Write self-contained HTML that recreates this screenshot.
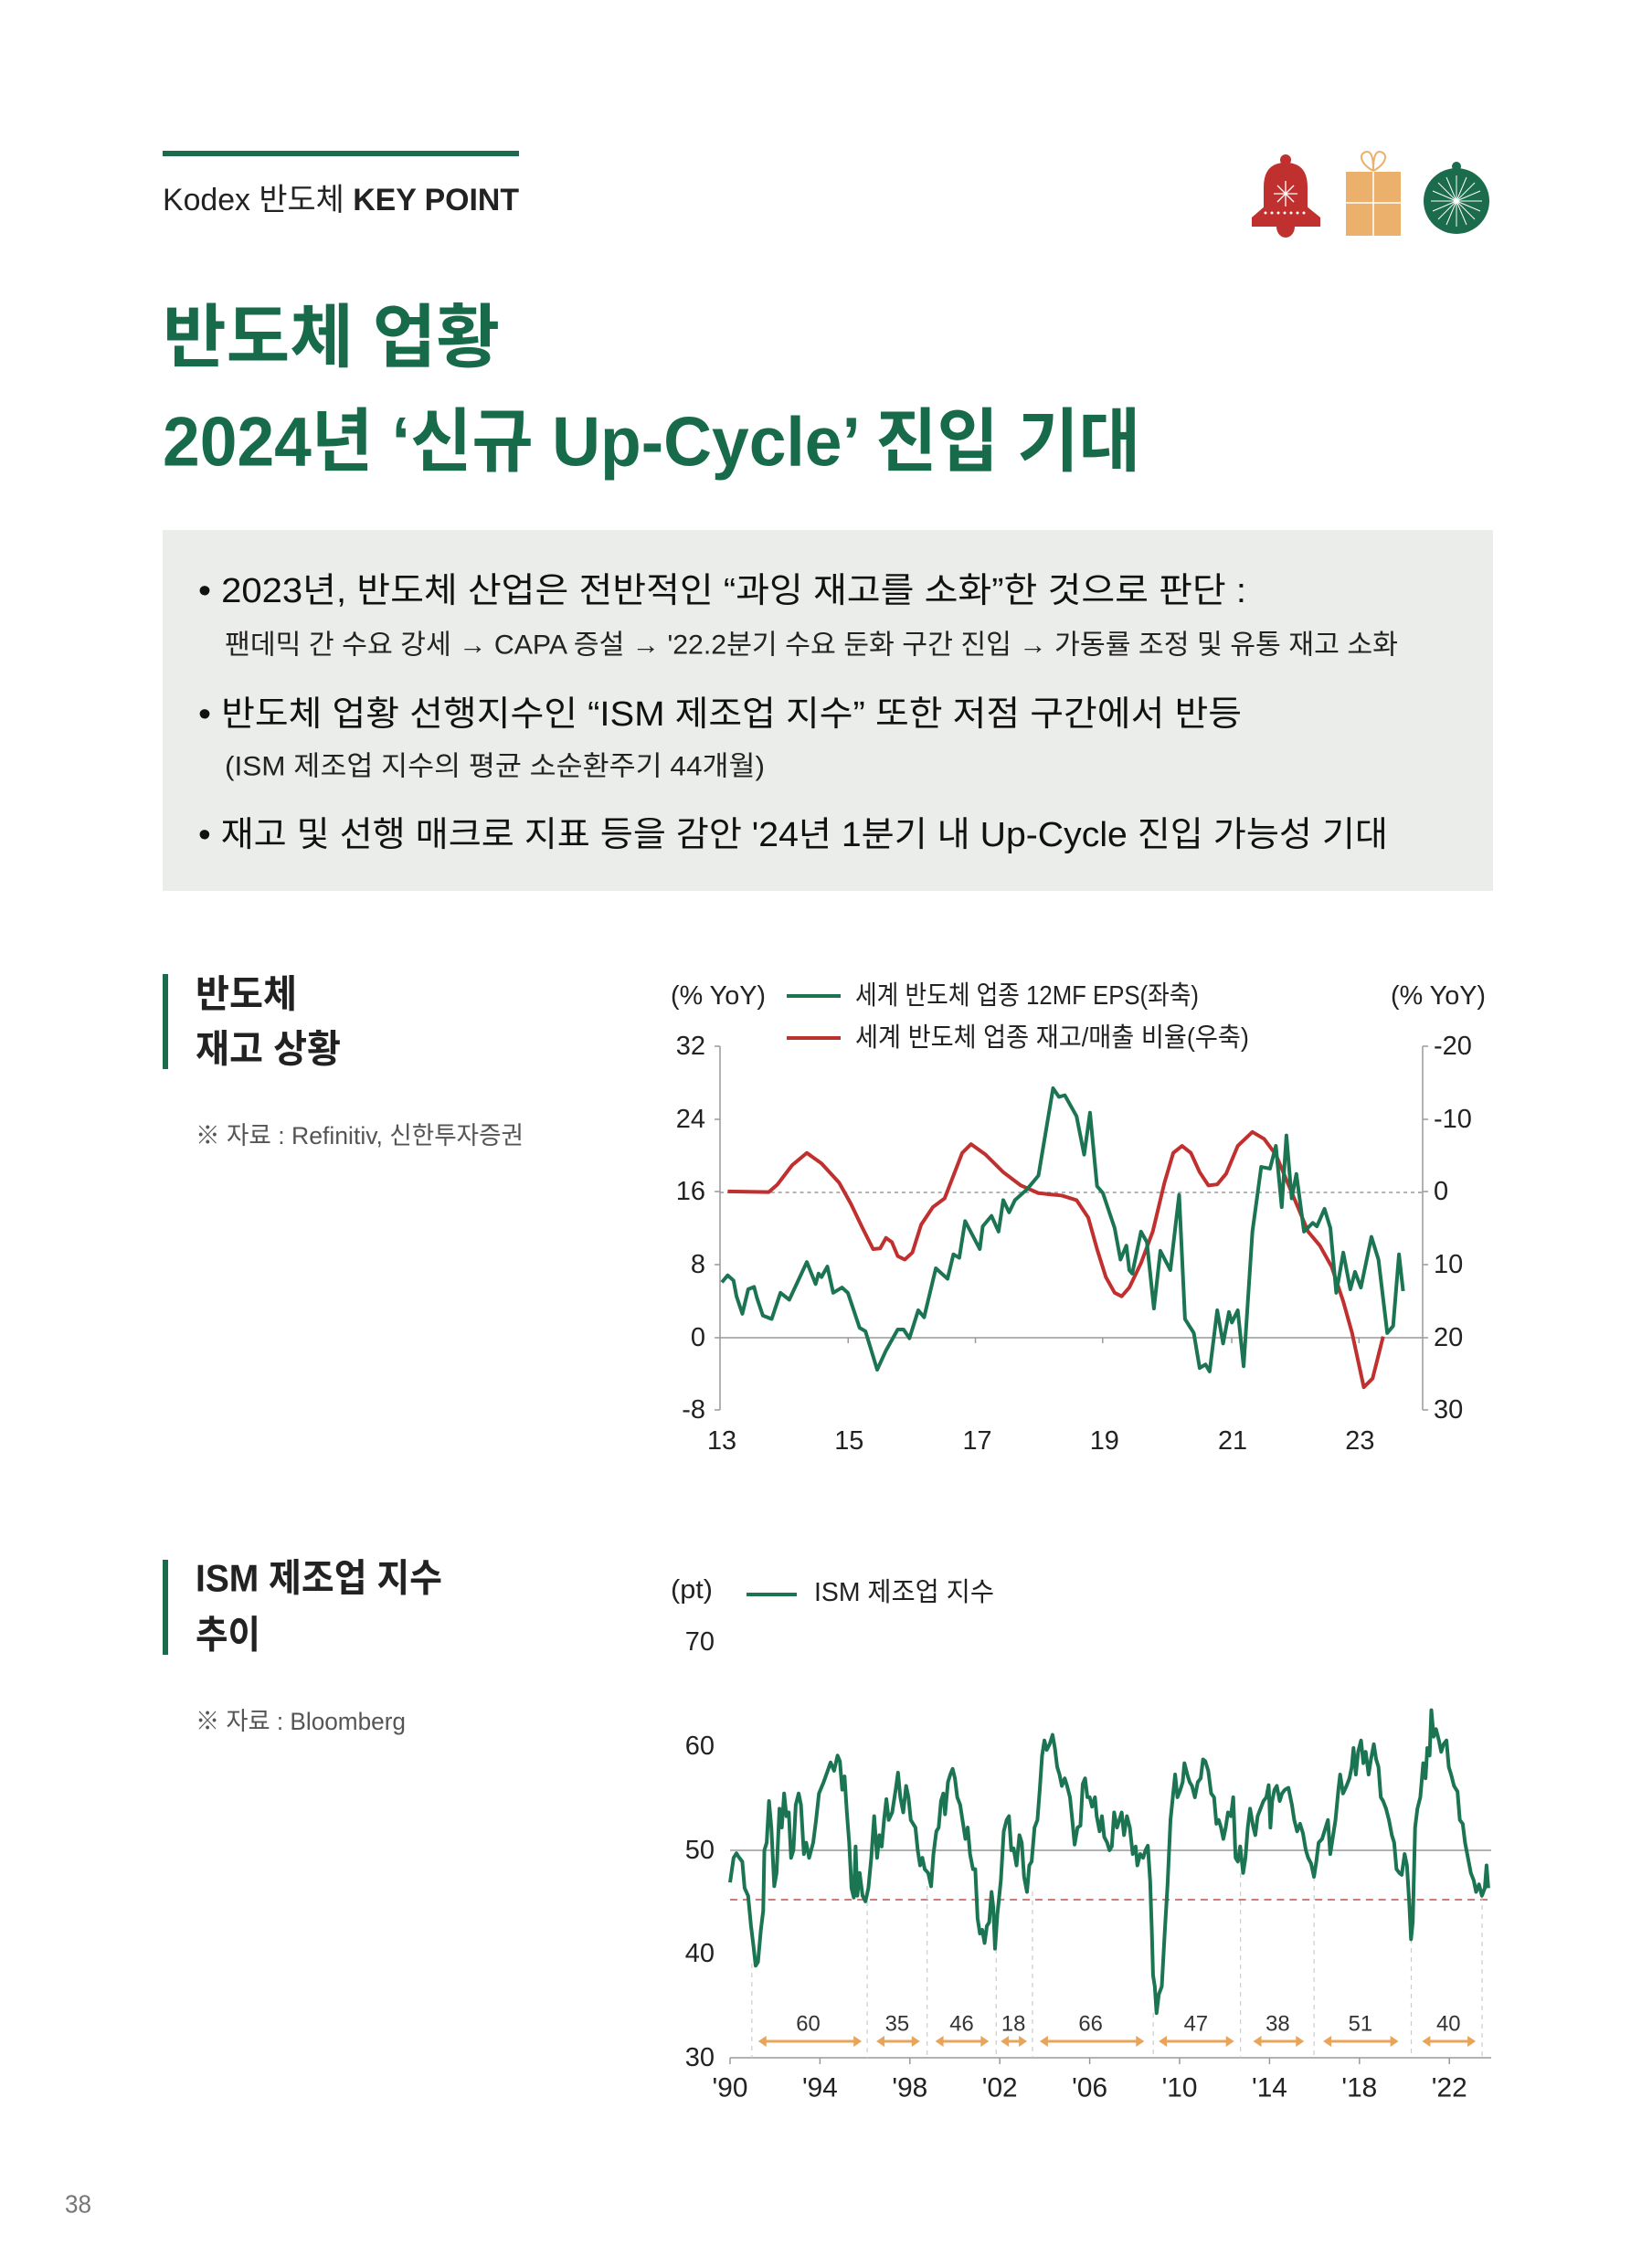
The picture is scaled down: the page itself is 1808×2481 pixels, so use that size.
<!DOCTYPE html>
<html><head><meta charset="utf-8"><style>
html,body{margin:0;padding:0;background:#fff;}
svg{display:block;}
text{font-family:"Liberation Sans","Noto Sans CJK KR",sans-serif;}
</style></head><body>
<svg width="1808" height="2481" viewBox="0 0 1808 2481" xmlns="http://www.w3.org/2000/svg">
<rect width="1808" height="2481" fill="#fff"/>
<!-- header -->
<rect x="178" y="165" width="390" height="6" fill="#1b6b4d"/>
<text x="178" y="219" dominant-baseline="central" font-size="34" fill="#222" textLength="390" lengthAdjust="spacingAndGlyphs">Kodex 반도체 <tspan font-weight="bold">KEY POINT</tspan></text>
<!-- icons -->
<g>
<circle cx="1407" cy="175" r="6" fill="#c0302e"/>
<path d="M1383 238 L1383 205 Q1383 178 1407 178 Q1431 178 1431 205 L1431 238 Z" fill="#c0302e"/>
<path d="M1370 238 L1385 225 L1429 225 L1445 238 Z" fill="#c0302e"/>
<rect x="1370" y="238" width="75" height="10" fill="#c0302e"/>
<path d="M1397 248 A10 12 0 0 0 1417 248 Z" fill="#c0302e"/>
<g stroke="#fff" stroke-width="1.3"><line x1="1407" y1="198" x2="1407" y2="226"/><line x1="1394" y1="212" x2="1420" y2="212"/><line x1="1398" y1="203" x2="1416" y2="221"/><line x1="1416" y1="203" x2="1398" y2="221"/></g>
<g fill="#fff"><circle cx="1385" cy="233" r="1.5"/><circle cx="1392" cy="233" r="1.5"/><circle cx="1399" cy="233" r="1.5"/><circle cx="1406" cy="233" r="1.5"/><circle cx="1413" cy="233" r="1.5"/><circle cx="1420" cy="233" r="1.5"/><circle cx="1427" cy="233" r="1.5"/></g>
<rect x="1473" y="188" width="60" height="70" fill="#eab06c"/>
<line x1="1503" y1="188" x2="1503" y2="258" stroke="#fff" stroke-width="1.5"/>
<line x1="1473" y1="222" x2="1533" y2="222" stroke="#fff" stroke-width="1.5"/>
<path d="M1503 187 C1490 180 1485 168 1496 166 C1503 166 1503 180 1503 187 C1503 180 1503 166 1510 166 C1521 168 1516 180 1503 187" fill="none" stroke="#eab06c" stroke-width="2"/>
<circle cx="1594" cy="182" r="5" fill="#1b6b4d"/>
<circle cx="1594" cy="220" r="36" fill="#1b6b4d"/>
<g stroke="#fff" stroke-width="1"><line x1="1594" y1="192" x2="1594" y2="248"/><line x1="1566" y1="220" x2="1622" y2="220"/><line x1="1574" y1="200" x2="1614" y2="240"/><line x1="1614" y1="200" x2="1574" y2="240"/><line x1="1583" y1="194" x2="1605" y2="246"/><line x1="1605" y1="194" x2="1583" y2="246"/><line x1="1568" y1="209" x2="1620" y2="231"/><line x1="1620" y1="209" x2="1568" y2="231"/></g>
</g>
<!-- title -->
<text x="178" y="370" dominant-baseline="central" font-size="76" font-weight="bold" fill="#176b4b" textLength="369" lengthAdjust="spacingAndGlyphs">반도체 업황</text>
<text x="178" y="484" dominant-baseline="central" font-size="76" font-weight="bold" fill="#176b4b" textLength="1070" lengthAdjust="spacingAndGlyphs">2024년 ‘신규 Up-Cycle’ 진입 기대</text>
<!-- grey box -->
<rect x="178" y="580" width="1456" height="395" fill="#ebedea"/>
<text x="217" y="647" dominant-baseline="central" font-size="38" fill="#111" textLength="1147" lengthAdjust="spacingAndGlyphs">• 2023년, 반도체 산업은 전반적인 “과잉 재고를 소화”한 것으로 판단 :</text>
<text x="246" y="706" dominant-baseline="central" font-size="30" fill="#222" textLength="1284" lengthAdjust="spacingAndGlyphs">팬데믹 간 수요 강세 → CAPA 증설 → '22.2분기 수요 둔화 구간 진입 → 가동률 조정 및 유통 재고 소화</text>
<text x="217" y="782" dominant-baseline="central" font-size="38" fill="#111" textLength="1142" lengthAdjust="spacingAndGlyphs">• 반도체 업황 선행지수인 “ISM 제조업 지수” 또한 저점 구간에서 반등</text>
<text x="246" y="839" dominant-baseline="central" font-size="30" fill="#222" textLength="591" lengthAdjust="spacingAndGlyphs">(ISM 제조업 지수의 평균 소순환주기 44개월)</text>
<text x="217" y="914" dominant-baseline="central" font-size="38" fill="#111" textLength="1302" lengthAdjust="spacingAndGlyphs">• 재고 및 선행 매크로 지표 등을 감안 '24년 1분기 내 Up-Cycle 진입 가능성 기대</text>
<!-- section 1 -->
<rect x="178" y="1066" width="6" height="104" fill="#1b6b4d"/>
<text x="214" y="1088" dominant-baseline="central" font-size="42" font-weight="bold" fill="#222" textLength="111" lengthAdjust="spacingAndGlyphs">반도체</text>
<text x="214" y="1148" dominant-baseline="central" font-size="42" font-weight="bold" fill="#222" textLength="159" lengthAdjust="spacingAndGlyphs">재고 상황</text>
<text x="214" y="1243" dominant-baseline="central" font-size="27" fill="#555" textLength="359" lengthAdjust="spacingAndGlyphs">※ 자료 : Refinitiv, 신한투자증권</text>
<!-- chart 1 -->
<g font-size="29" fill="#222">
<text x="734" y="1090" dominant-baseline="central" textLength="104" lengthAdjust="spacingAndGlyphs">(% YoY)</text>
<text x="1522" y="1090" dominant-baseline="central" textLength="104" lengthAdjust="spacingAndGlyphs">(% YoY)</text>
<text x="936" y="1090" dominant-baseline="central" textLength="376" lengthAdjust="spacingAndGlyphs">세계 반도체 업종 12MF EPS(좌축)</text>
<text x="936" y="1136" dominant-baseline="central" textLength="431" lengthAdjust="spacingAndGlyphs">세계 반도체 업종 재고/매출 비율(우축)</text>
</g>
<line x1="861" y1="1090" x2="920" y2="1090" stroke="#1b7553" stroke-width="4"/>
<line x1="861" y1="1136" x2="920" y2="1136" stroke="#c0302e" stroke-width="4"/>
<g font-size="29" fill="#222" text-anchor="end" dominant-baseline="central">
<text x="772" y="1145">32</text><text x="772" y="1225">24</text><text x="772" y="1304">16</text><text x="772" y="1384">8</text><text x="772" y="1464">0</text><text x="772" y="1543">-8</text>
</g>
<g font-size="29" fill="#222" dominant-baseline="central">
<text x="1569" y="1145">-20</text><text x="1569" y="1225">-10</text><text x="1569" y="1304">0</text><text x="1569" y="1384">10</text><text x="1569" y="1464">20</text><text x="1569" y="1543">30</text>
</g>
<g transform="translate(788,0) scale(0.9948,1) translate(-788,0)">
<g font-size="29" fill="#222" text-anchor="middle" dominant-baseline="central">
<text x="790" y="1577">13</text><text x="930" y="1577">15</text><text x="1071" y="1577">17</text><text x="1211" y="1577">19</text><text x="1352" y="1577">21</text><text x="1492" y="1577">23</text>
</g>
<g stroke="#999" stroke-width="1.5" fill="none">
<line x1="788" y1="1145" x2="788" y2="1543"/>
<line x1="782" y1="1145" x2="788" y2="1145"/><line x1="782" y1="1225" x2="788" y2="1225"/><line x1="782" y1="1304" x2="788" y2="1304"/><line x1="782" y1="1384" x2="788" y2="1384"/><line x1="782" y1="1464" x2="788" y2="1464"/><line x1="782" y1="1543" x2="788" y2="1543"/>
<line x1="1561" y1="1145" x2="1561" y2="1543"/>
<line x1="1561" y1="1145" x2="1567" y2="1145"/><line x1="1561" y1="1225" x2="1567" y2="1225"/><line x1="1561" y1="1304" x2="1567" y2="1304"/><line x1="1561" y1="1384" x2="1567" y2="1384"/><line x1="1561" y1="1464" x2="1567" y2="1464"/><line x1="1561" y1="1543" x2="1567" y2="1543"/>
<line x1="788" y1="1464" x2="1561" y2="1464"/>
<line x1="929" y1="1464" x2="929" y2="1470"/><line x1="1069" y1="1464" x2="1069" y2="1470"/><line x1="1209" y1="1464" x2="1209" y2="1470"/><line x1="1351" y1="1464" x2="1351" y2="1470"/><line x1="1491" y1="1464" x2="1491" y2="1470"/>
<line x1="788" y1="1305" x2="1561" y2="1305" stroke-dasharray="4,4"/>
</g>
<g transform="translate(699.7,1041.7) scale(0.645,0.3827)" fill="none" stroke-linejoin="round">
<polyline vector-effect="non-scaling-stroke" stroke="#c0302e" stroke-width="4" points="150,685 220,687 235,665 260,610 285,575 310,605 340,660 360,720 380,790 398,850 410,848 420,818 430,830 440,870 452,880 465,860 480,780 500,730 520,705 535,640 550,575 565,550 590,580 620,630 650,668 680,690 720,697 745,710 765,760 780,850 795,930 810,975 822,985 835,960 855,890 875,800 895,660 910,575 925,555 940,575 955,630 970,668 985,665 1000,635 1020,555 1045,515 1065,535 1085,580 1100,640 1120,720 1140,800 1160,840 1180,900 1200,1000 1215,1090 1235,1245 1250,1220 1268,1100"/>
<polyline vector-effect="non-scaling-stroke" stroke="#1b7553" stroke-width="4" points="140,945 150,925 160,940 165,985 175,1035 185,965 195,958 200,990 210,1040 225,1050 240,975 255,995 285,887 300,950 305,920 310,930 320,900 330,975 345,960 355,975 375,1075 385,1085 395,1140 405,1195 420,1140 440,1080 450,1080 460,1105 475,1025 485,1045 505,905 525,935 535,865 545,875 555,770 580,850 585,785 600,755 612,800 620,710 630,745 640,710 660,680 680,640 705,390 715,415 725,410 745,470 758,580 768,460 780,670 790,690 810,790 820,880 830,840 835,910 840,920 855,800 865,830 877,1020 888,855 905,910 920,695 930,1050 945,1090 955,1190 965,1180 972,1200 985,1025 995,1120 1005,1030 1010,1060 1020,1025 1030,1185 1045,800 1060,615 1075,620 1085,555 1095,730 1103,525 1112,705 1120,635 1133,800 1148,775 1155,785 1168,735 1178,790 1188,975 1200,860 1212,965 1220,915 1230,960 1248,815 1260,880 1275,1090 1285,1070 1295,865 1302,970"/>
</g>
</g>
<!-- section 2 -->
<rect x="178" y="1707" width="6" height="104" fill="#1b6b4d"/>
<text x="214" y="1727" dominant-baseline="central" font-size="42" font-weight="bold" fill="#222" textLength="270" lengthAdjust="spacingAndGlyphs">ISM 제조업 지수</text>
<text x="214" y="1789" dominant-baseline="central" font-size="42" font-weight="bold" fill="#222" textLength="71" lengthAdjust="spacingAndGlyphs">추이</text>
<text x="214" y="1884" dominant-baseline="central" font-size="27" fill="#555" textLength="230" lengthAdjust="spacingAndGlyphs">※ 자료 : Bloomberg</text>
<!-- chart 2 -->
<text x="734" y="1740" dominant-baseline="central" font-size="29" fill="#222" textLength="46" lengthAdjust="spacingAndGlyphs">(pt)</text>
<line x1="817" y1="1745" x2="872" y2="1745" stroke="#1b7553" stroke-width="4"/>
<text x="891" y="1743" dominant-baseline="central" font-size="29" fill="#222" textLength="197" lengthAdjust="spacingAndGlyphs">ISM 제조업 지수</text>
<g font-size="29" fill="#222" text-anchor="end" dominant-baseline="central">
<text x="782" y="1797">70</text><text x="782" y="1911">60</text><text x="782" y="2025">50</text><text x="782" y="2138">40</text><text x="782" y="2252">30</text>
</g>
<g transform="translate(799,0) scale(0.994,1) translate(-799,0)">
<g font-size="30" fill="#222" text-anchor="middle" dominant-baseline="central">
<text x="799" y="2285">'90</text><text x="898" y="2285">'94</text><text x="997" y="2285">'98</text><text x="1096" y="2285">'02</text><text x="1195" y="2285">'06</text><text x="1294" y="2285">'10</text><text x="1393" y="2285">'14</text><text x="1492" y="2285">'18</text><text x="1591" y="2285">'22</text>
</g>
<line x1="799" y1="2025" x2="1637" y2="2025" stroke="#999" stroke-width="1.5"/>
<line x1="799" y1="2079" x2="1637" y2="2079" stroke="#d07a7a" stroke-width="2" stroke-dasharray="8,6"/>
<g stroke="#999" stroke-width="1.5">
<line x1="799" y1="2252" x2="1637" y2="2252"/>
<line x1="799" y1="2252" x2="799" y2="2259"/><line x1="898" y1="2252" x2="898" y2="2259"/><line x1="997" y1="2252" x2="997" y2="2259"/><line x1="1096" y1="2252" x2="1096" y2="2259"/><line x1="1195" y1="2252" x2="1195" y2="2259"/><line x1="1294" y1="2252" x2="1294" y2="2259"/><line x1="1393" y1="2252" x2="1393" y2="2259"/><line x1="1492" y1="2252" x2="1492" y2="2259"/><line x1="1591" y1="2252" x2="1591" y2="2259"/>
</g>
<g stroke="#ccc" stroke-width="1.2" stroke-dasharray="5,5">
<line x1="823" y1="2149" x2="823" y2="2252"/><line x1="950" y1="2081" x2="950" y2="2252"/><line x1="1016" y1="2064" x2="1016" y2="2252"/><line x1="1092" y1="2133" x2="1092" y2="2252"/><line x1="1132" y1="2070" x2="1132" y2="2252"/><line x1="1265" y1="2203" x2="1265" y2="2252"/><line x1="1361" y1="2050" x2="1361" y2="2252"/><line x1="1442" y1="2054" x2="1442" y2="2252"/><line x1="1549" y1="2122" x2="1549" y2="2252"/><line x1="1627" y1="2075" x2="1627" y2="2252"/>
</g>
<g stroke="#e8a45a" stroke-width="3" fill="#e8a45a">
<line x1="832" y1="2234" x2="941" y2="2234"/><line x1="962" y1="2234" x2="1006" y2="2234"/><line x1="1027" y1="2234" x2="1081" y2="2234"/><line x1="1099" y1="2234" x2="1123" y2="2234"/><line x1="1142" y1="2234" x2="1253" y2="2234"/><line x1="1273" y1="2234" x2="1352" y2="2234"/><line x1="1377" y1="2234" x2="1429" y2="2234"/><line x1="1454" y1="2234" x2="1533" y2="2234"/><line x1="1563" y1="2234" x2="1618" y2="2234"/>
</g>
<g fill="#e8a45a">
<path d="M830 2234 l9 -6 v12z M944 2234 l-9 -6 v12z"/><path d="M960 2234 l9 -6 v12z M1008 2234 l-9 -6 v12z"/><path d="M1025 2234 l9 -6 v12z M1084 2234 l-9 -6 v12z"/><path d="M1097 2234 l9 -6 v12z M1126 2234 l-9 -6 v12z"/><path d="M1140 2234 l9 -6 v12z M1255 2234 l-9 -6 v12z"/><path d="M1271 2234 l9 -6 v12z M1354 2234 l-9 -6 v12z"/><path d="M1375 2234 l9 -6 v12z M1431 2234 l-9 -6 v12z"/><path d="M1452 2234 l9 -6 v12z M1535 2234 l-9 -6 v12z"/><path d="M1561 2234 l9 -6 v12z M1620 2234 l-9 -6 v12z"/>
</g>
<g font-size="24" fill="#333" text-anchor="middle" dominant-baseline="central">
<text x="885" y="2215">60</text><text x="983" y="2215">35</text><text x="1054" y="2215">46</text><text x="1111" y="2215">18</text><text x="1196" y="2215">66</text><text x="1312" y="2215">47</text><text x="1402" y="2215">38</text><text x="1493" y="2215">51</text><text x="1590" y="2215">40</text>
</g>
<g transform="translate(698.6,1701.7) scale(0.6397,0.4144)" fill="none" stroke-linejoin="round">
<polyline vector-effect="non-scaling-stroke" stroke="#1b7553" stroke-width="4" points="157,865 163,800 168,788 172,798 178,810 182,880 188,900 193,980 197,1030 201,1085 205,1075 210,990 214,940 216,780 220,760 224,650 228,720 233,875 237,840 242,670 246,720 250,630 254,690 258,680 262,800 266,780 270,660 275,630 279,660 284,790 288,760 293,800 300,760 305,700 310,630 318,600 325,570 330,548 336,570 342,530 346,545 350,620 354,585 358,680 362,760 366,880 370,905 373,770 376,900 380,840 385,900 390,915 395,880 400,800 405,690 410,800 414,740 418,770 422,700 426,645 430,700 436,680 442,620 446,575 450,640 455,680 460,610 464,640 468,700 472,710 476,720 480,780 484,820 488,800 492,830 498,840 503,875 507,790 512,730 516,720 520,650 524,630 527,685 532,600 536,580 540,565 544,590 548,640 553,660 557,700 562,750 566,720 570,790 575,830 579,830 583,960 587,1000 591,990 595,1025 599,980 603,970 607,890 610,930 613,1040 617,950 623,860 628,730 633,700 637,690 641,780 645,775 650,820 655,740 659,760 663,850 668,890 672,820 676,810 681,720 686,700 690,620 694,530 698,490 702,515 707,500 712,475 716,510 720,560 724,580 728,610 733,590 737,610 742,640 746,700 750,765 755,720 760,715 764,605 768,590 772,640 776,640 780,665 785,640 788,690 793,730 797,690 801,745 806,760 810,780 814,770 818,680 823,720 827,700 831,680 835,740 840,690 845,720 850,790 855,770 858,820 863,790 868,800 872,780 876,768 880,860 883,1000 885,1110 888,1140 891,1210 895,1160 900,1140 905,1000 910,870 915,700 919,640 923,580 927,640 932,620 936,600 939,550 944,580 948,600 952,610 957,640 962,600 967,590 971,540 975,545 980,570 985,630 990,640 994,710 998,700 1002,720 1006,750 1010,720 1014,680 1019,690 1023,640 1027,800 1031,810 1035,770 1040,840 1044,800 1048,720 1052,670 1057,715 1061,740 1065,690 1070,670 1075,650 1080,640 1084,608 1087,720 1090,650 1094,620 1098,610 1103,650 1107,630 1112,620 1118,615 1124,660 1128,700 1133,730 1138,710 1143,735 1148,780 1152,800 1157,815 1162,850 1166,810 1170,760 1176,750 1182,720 1186,700 1190,790 1195,740 1199,700 1204,620 1207,580 1212,630 1218,610 1223,590 1227,560 1230,510 1234,580 1238,520 1243,490 1247,550 1251,520 1256,580 1260,540 1265,500 1269,540 1273,560 1277,640 1281,650 1286,670 1291,700 1296,740 1300,760 1304,830 1309,840 1313,845 1318,790 1322,820 1326,920 1329,1015 1332,970 1336,720 1340,670 1345,640 1350,550 1354,590 1357,510 1361,530 1364,410 1368,480 1372,460 1377,490 1381,520 1385,500 1390,490 1394,560 1398,580 1403,610 1409,625 1413,700 1418,710 1422,760 1427,800 1432,840 1437,860 1441,890 1446,870 1451,900 1456,880 1459,820 1462,880"/>
</g>
</g>
<text x="71" y="2412" dominant-baseline="central" font-size="28" fill="#777" textLength="29" lengthAdjust="spacingAndGlyphs">38</text>
</svg>
</body></html>
